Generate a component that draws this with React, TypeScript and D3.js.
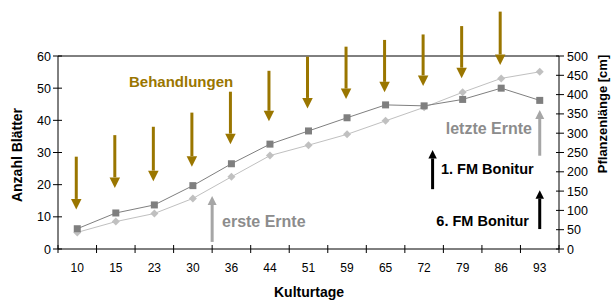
import React from "react";
import { scaleBand, scaleLinear, line } from "d3";

const days = ["10", "15", "23", "30", "36", "44", "51", "59", "65", "72", "79", "86", "93"];
const leaves = [6.3, 11.2, 13.7, 19.7, 26.5, 32.6, 36.7, 40.8, 44.8, 44.5, 46.5, 50, 46.2];
const plantLength = [43, 71, 92, 131, 187, 242, 269, 297, 332, 367, 406, 442, 459];

const leftTicks = [0, 10, 20, 30, 40, 50, 60];
const rightTicks = [0, 50, 100, 150, 200, 250, 300, 350, 400, 450, 500];

// Behandlungen arrows (left axis units), one per day 10..86
const treatDays = ["10", "15", "23", "30", "36", "44", "51", "59", "65", "72", "79", "86"];
const treatTop = [28.7, 35.4, 38.0, 42.4, 48.9, 55.4, 59.8, 62.9, 65.0, 66.7, 69.3, 73.8];
const treatTip = [12.3, 19.0, 21.1, 25.6, 32.6, 39.7, 43.7, 46.6, 48.7, 50.7, 53.1, 57.2];

const W = 614;
const H = 302;
const left = 58;
const right = 559;
const top = 56;
const bottom = 249;

const FONT = "'Liberation Sans', Arial, sans-serif";
const BROWN = "#9A7600";
const GREY_TXT = "#8C8C8C";
const GREY_ARR = "#A6A6A6";

function Arrow({ x, y0, y1, color, head = 9 }: { x: number; y0: number; y1: number; color: string; head?: number }) {
  // y0 = tail, y1 = tip
  const dir = y1 > y0 ? 1 : -1;
  const base = y1 - dir * head;
  return (
    <g>
      <line x1={x} x2={x} y1={y0} y2={base} stroke={color} strokeWidth={3} />
      <path d={`M${x - head / 2},${base} L${x + head / 2},${base} L${x},${y1} Z`} fill={color} />
    </g>
  );
}

export default function App() {
  const x = scaleBand<string>().domain(days).range([left, right]);
  const bw = x.bandwidth();
  const cx = (d: string) => (x(d) as number) + bw / 2;
  const xi = scaleLinear().domain([-0.5, days.length - 0.5]).range([left, right]);
  const yL = scaleLinear().domain([0, 60]).range([bottom, top]);
  const yR = scaleLinear().domain([0, 500]).range([bottom, top]);

  const darkPath = line<number>()
    .x((_, i) => cx(days[i]))
    .y((d) => yL(d))(leaves) as string;
  const lightPath = line<number>()
    .x((_, i) => cx(days[i]))
    .y((d) => yR(d))(plantLength) as string;

  const bounds = days.map((d) => x(d) as number).concat([right]);

  return (
    <svg width={W} height={H} style={{ position: "absolute", left: 0, top: 0, fontFamily: FONT }}>
      <rect width={W} height={H} fill="#fff" />
      {/* frame */}
      <line x1={left} x2={right} y1={top} y2={top} stroke="#000" />
      <line x1={left} x2={left} y1={top} y2={bottom} stroke="#000" />
      <line x1={right} x2={right} y1={top} y2={bottom} stroke="#000" />
      <line x1={left} x2={right} y1={bottom} y2={bottom} stroke="#000" />

      {/* x ticks */}
      {bounds.map((b, i) => (
        <line key={"xt" + i} x1={b} x2={b} y1={bottom - 4} y2={bottom + 4} stroke="#000" />
      ))}
      {days.map((d) => (
        <text key={"xl" + d} x={cx(d)} y={272} textAnchor="middle" fontSize={12}>
          {d}
        </text>
      ))}

      {/* left ticks */}
      {leftTicks.map((t) => (
        <g key={"lt" + t}>
          <line x1={left - 5} x2={left + 4} y1={yL(t)} y2={yL(t)} stroke="#000" />
          <text x={left - 7} y={yL(t) + 4.5} textAnchor="end" fontSize={12.5}>
            {t}
          </text>
        </g>
      ))}
      {/* right ticks */}
      {rightTicks.map((t) => (
        <g key={"rt" + t}>
          <line x1={right - 3} x2={right + 5} y1={yR(t)} y2={yR(t)} stroke="#000" />
          <text x={right + 8} y={yR(t) + 4.5} textAnchor="start" fontSize={12.5}>
            {t}
          </text>
        </g>
      ))}

      {/* axis titles */}
      <text transform={`translate(22,155) rotate(-90)`} textAnchor="middle" fontSize={14} fontWeight="bold">
        Anzahl Blätter
      </text>
      <text transform={`translate(607,114) rotate(-90)`} textAnchor="middle" fontSize={13} fontWeight="bold">
        Pflanzenlänge [cm]
      </text>
      <text x={309} y={297} textAnchor="middle" fontSize={14} fontWeight="bold">
        Kulturtage
      </text>

      {/* series */}
      <path d={lightPath} fill="none" stroke="#C0C0C0" strokeWidth={1} />
      {plantLength.map((v, i) => (
        <path
          key={"lp" + i}
          d={`M${cx(days[i])},${yR(v) - 4} l4,4 l-4,4 l-4,-4 Z`}
          fill="#C0C0C0"
        />
      ))}
      <path d={darkPath} fill="none" stroke="#7F7F7F" strokeWidth={1} />
      {leaves.map((v, i) => (
        <rect key={"dp" + i} x={cx(days[i]) - 3.5} y={yL(v) - 3.5} width={7} height={7} fill="#7F7F7F" />
      ))}

      {/* Behandlungen arrows */}
      {treatDays.map((d, i) => (
        <Arrow key={"ta" + d} x={cx(d) - 1} y0={yL(treatTop[i])} y1={yL(treatTip[i])} color={BROWN} head={10.5} />
      ))}
      <text x={129} y={87} fontSize={15} fontWeight="bold" fill={BROWN}>
        Behandlungen
      </text>

      {/* Ernte arrows */}
      <Arrow x={xi(3.5)} y0={yL(2.2)} y1={yL(16.5)} color={GREY_ARR} head={9} />
      <text x={222} y={227} fontSize={16} fontWeight="bold" fill={GREY_TXT}>
        erste Ernte
      </text>
      <Arrow x={cx("93")} y0={yL(29)} y1={yL(43.2)} color={GREY_ARR} head={9} />
      <text x={532} y={134} textAnchor="end" fontSize={16} fontWeight="bold" fill={GREY_TXT}>
        letzte Ernte
      </text>

      {/* Bonitur arrows */}
      <Arrow x={xi(9.22)} y0={yL(18.6)} y1={yL(30.8)} color="#000" head={8.5} />
      <text x={441} y={174} fontSize={14.5} fontWeight="bold">
        1. FM Bonitur
      </text>
      <Arrow x={cx("93")} y0={yL(6.2)} y1={yL(18.3)} color="#000" head={8.5} />
      <text x={529} y={226} textAnchor="end" fontSize={14.5} fontWeight="bold">
        6. FM Bonitur
      </text>
    </svg>
  );
}
